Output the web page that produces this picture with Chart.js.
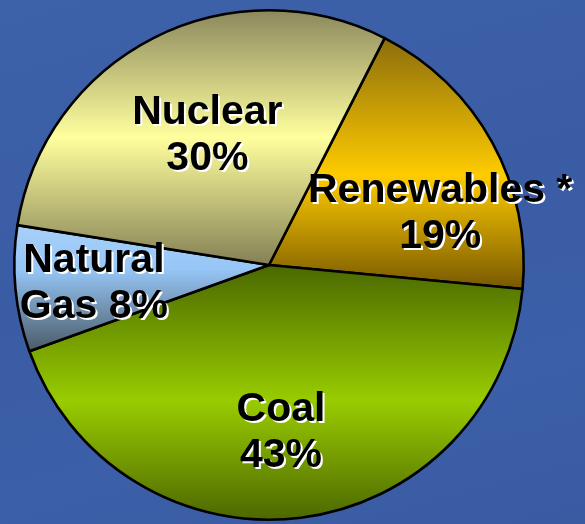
<!DOCTYPE html>
<html>
<head>
<meta charset="utf-8">
<script src="https://cdn.jsdelivr.net/npm/chart.js@4.4.1/dist/chart.umd.min.js"></script>
<style>
    html, body { margin: 0; padding: 0; }
    body {
        width: 585px; height: 524px; overflow: hidden;
        background: linear-gradient(165deg, #3d62aa 0%, #3a5ca4 45%, #3b5fa8 75%, #3a5ba2 100%);
    }
    #wrap { position: relative; width: 585px; height: 524px; }
</style>
</head>
<body>
<div id="wrap"><canvas id="energyPie"></canvas></div>
<script>
// 데이터 (chart values)
const categories = ['Renewables *', 'Coal', 'Natural Gas', 'Nuclear'];
const shares = [19, 43, 8, 30];
// label text: first line / second line prefix (percent appended)
const labelLine1 = ['Renewables *', 'Coal', 'Natural', 'Nuclear'];
const labelLine2 = ['', '', 'Gas ', ''];

// style: tube gradients per slice (top, mid, bottom) and label anchor offsets (fraction of radius)
const sliceGradients = [
    [[0, '#8a6c0c'], [0.55, '#ffcc00'], [1, '#785800']],
    [[0, '#4a6800'], [0.53, '#99cc00'], [1, '#4c6600']],
    [[0, '#a8d0f8'], [0.35, '#96c6f6'], [1, '#4a5a66']],
    [[0, '#8a875c'], [0.5, '#ffff9e'], [1, '#848055']]
];
const flatColors = ['#ffcc00', '#99cc00', '#99ccff', '#ffff99'];
const labelOffsets = [[0.672, -0.246], [0.047, 0.613], [-0.6875, 0.027], [-0.242, -0.555]];
const ROTATION = 27;

function sliceGradient(context) {
    const chart = context.chart;
    const area = chart.chartArea;
    const i = context.dataIndex;
    if (!area) return flatColors[i];
    const cx = (area.left + area.right) / 2;
    const cy = (area.top + area.bottom) / 2;
    const r = Math.min(area.right - area.left, area.bottom - area.top) / 2;
    const total = shares.reduce((a, b) => a + b, 0);
    let start = (ROTATION - 90) * Math.PI / 180;
    for (let k = 0; k < i; k++) start += shares[k] / total * Math.PI * 2;
    const end = start + shares[i] / total * Math.PI * 2;
    let yMin = cy, yMax = cy;
    for (let s = 0; s <= 60; s++) {
        const a = start + (end - start) * s / 60;
        const y = cy + r * Math.sin(a);
        yMin = Math.min(yMin, y);
        yMax = Math.max(yMax, y);
    }
    const g = chart.ctx.createLinearGradient(0, yMin, 0, yMax);
    sliceGradients[i].forEach(([stop, col]) => g.addColorStop(stop, col));
    return g;
}

const shadowLabels = {
    id: 'shadowLabels',
    afterDatasetsDraw(chart) {
        const ctx = chart.ctx;
        const meta = chart.getDatasetMeta(0);
        ctx.save();
        ctx.font = 'bold 41px "Liberation Sans", Arial, sans-serif';
        ctx.textAlign = 'center';
        ctx.textBaseline = 'alphabetic';
        meta.data.forEach((arc, i) => {
            const r = arc.outerRadius;
            const x = arc.x + labelOffsets[i][0] * r;
            const y = arc.y + labelOffsets[i][1] * r;
            const lines = [labelLine1[i], labelLine2[i] + shares[i] + '%'];
            lines.forEach((txt, j) => {
                const ly = y + j * 46;
                ctx.fillStyle = '#ffffff';
                ctx.fillText(txt, x + 2, ly + 2);
                ctx.fillStyle = '#000000';
                ctx.fillText(txt, x, ly);
            });
        });
        ctx.restore();
    }
};

new Chart(document.getElementById('energyPie'), {
    type: 'pie',
    data: {
        labels: categories,
        datasets: [{
            data: shares,
            backgroundColor: sliceGradient,
            borderColor: '#000000',
            borderWidth: 2.6,
            borderJoinStyle: 'round'
        }]
    },
    options: {
        responsive: true,
        maintainAspectRatio: false,
        animation: false,
        rotation: ROTATION,
        layout: { padding: { left: 13, right: 60, top: 9, bottom: 3 } },
        plugins: {
            legend: { display: false },
            tooltip: { enabled: false }
        }
    },
    plugins: [shadowLabels]
});
</script>
</body>
</html>
